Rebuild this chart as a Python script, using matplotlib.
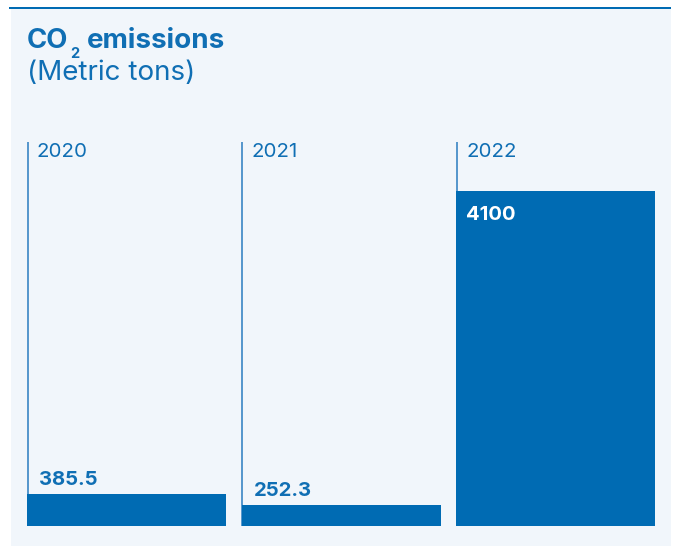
import matplotlib
matplotlib.use("Agg")
import matplotlib.pyplot as plt
from matplotlib.patches import Rectangle

years = ["2020", "2021", "2022"]
emissions = [385.5, 252.3, 4100]
value_labels = ["385.5", "252.3", "4100"]

BLUE = "#006bb3"
TEXT_BLUE = "#106fb4"
PANEL = "#f1f6fb"

W, H = 678, 546
plt.rcParams["font.family"] = ["Inter", "DejaVu Sans"]

fig = plt.figure(figsize=(W / 100, H / 100), dpi=100)
fig.patch.set_facecolor("white")


def fx(x):
    return x / W


def fy(y):
    return 1 - y / H


# light panel and the rule above it (kept behind the axes)
fig.patches.append(Rectangle((fx(11), fy(546)), fx(671) - fx(11), fy(9.3) - fy(546),
                             transform=fig.transFigure, facecolor=PANEL,
                             edgecolor="none", zorder=-2))
fig.patches.append(Rectangle((fx(9), fy(9.3)), fx(671) - fx(9), fy(6.7) - fy(9.3),
                             transform=fig.transFigure, facecolor=BLUE,
                             edgecolor="none", zorder=-1))

# title: CO2 with subscript, then the unit line
t1 = fig.text(fx(27), fy(48), "CO", fontsize=19.8, fontweight="bold",
              color=TEXT_BLUE, va="baseline")
t2 = fig.text(0, 0, "2", fontsize=10.5, fontweight="bold", color=TEXT_BLUE,
              va="baseline")
fig.canvas.draw()
r = fig.canvas.get_renderer()
bb = t1.get_window_extent(r)
t2.set_position(((bb.x1 + 2) / W, fy(58)))
bb2 = t2.get_window_extent(r)
fig.text((bb2.x1 + 7) / W, fy(48), "emissions", fontsize=20, fontweight="bold",
         color=TEXT_BLUE, va="baseline")
fig.text(fx(27), fy(80), "(Metric tons)", fontsize=20, color=TEXT_BLUE,
         va="baseline")

# bar area
top_px, bottom_px = 142, 525.7
ax = fig.add_axes([fx(27), fy(bottom_px), fx(655) - fx(27), (bottom_px - top_px) / H])
ax.set_facecolor("none")
ax.axis("off")

pitch = 214.5
bar_w = 199 / pitch
ymax = max(emissions) * (bottom_px - top_px) / (bottom_px - 191)
ax.set_xlim(0, 2 + bar_w)
ax.set_ylim(0, ymax)

xs = list(range(len(years)))
ax.bar(xs, emissions, width=bar_w, align="edge", color=BLUE, zorder=3)

for i, (yr, v, lab) in enumerate(zip(years, emissions, value_labels)):
    ax.axvline(i + 0.7 / pitch, ymin=0, ymax=1, color="#2a7cc0", lw=1.1, zorder=1)
    ax.annotate(yr, xy=(i, 1), xycoords=("data", "axes fraction"),
                xytext=(7.2, -11), textcoords="offset points",
                fontsize=14.8, color=TEXT_BLUE, va="baseline", ha="left")
    if v > 0.5 * max(emissions):
        ax.annotate(lab, xy=(i, v), xytext=(7.2, -20.9), textcoords="offset points",
                    fontsize=14.6, fontweight="bold", color="white",
                    va="baseline", ha="left", zorder=4)
    else:
        ax.annotate(lab, xy=(i, v), xytext=(8.6, 6.3), textcoords="offset points",
                    fontsize=14.6, fontweight="bold", color=TEXT_BLUE,
                    va="baseline", ha="left", zorder=4)

fig.savefig("out.png", dpi=100, facecolor=fig.get_facecolor())
